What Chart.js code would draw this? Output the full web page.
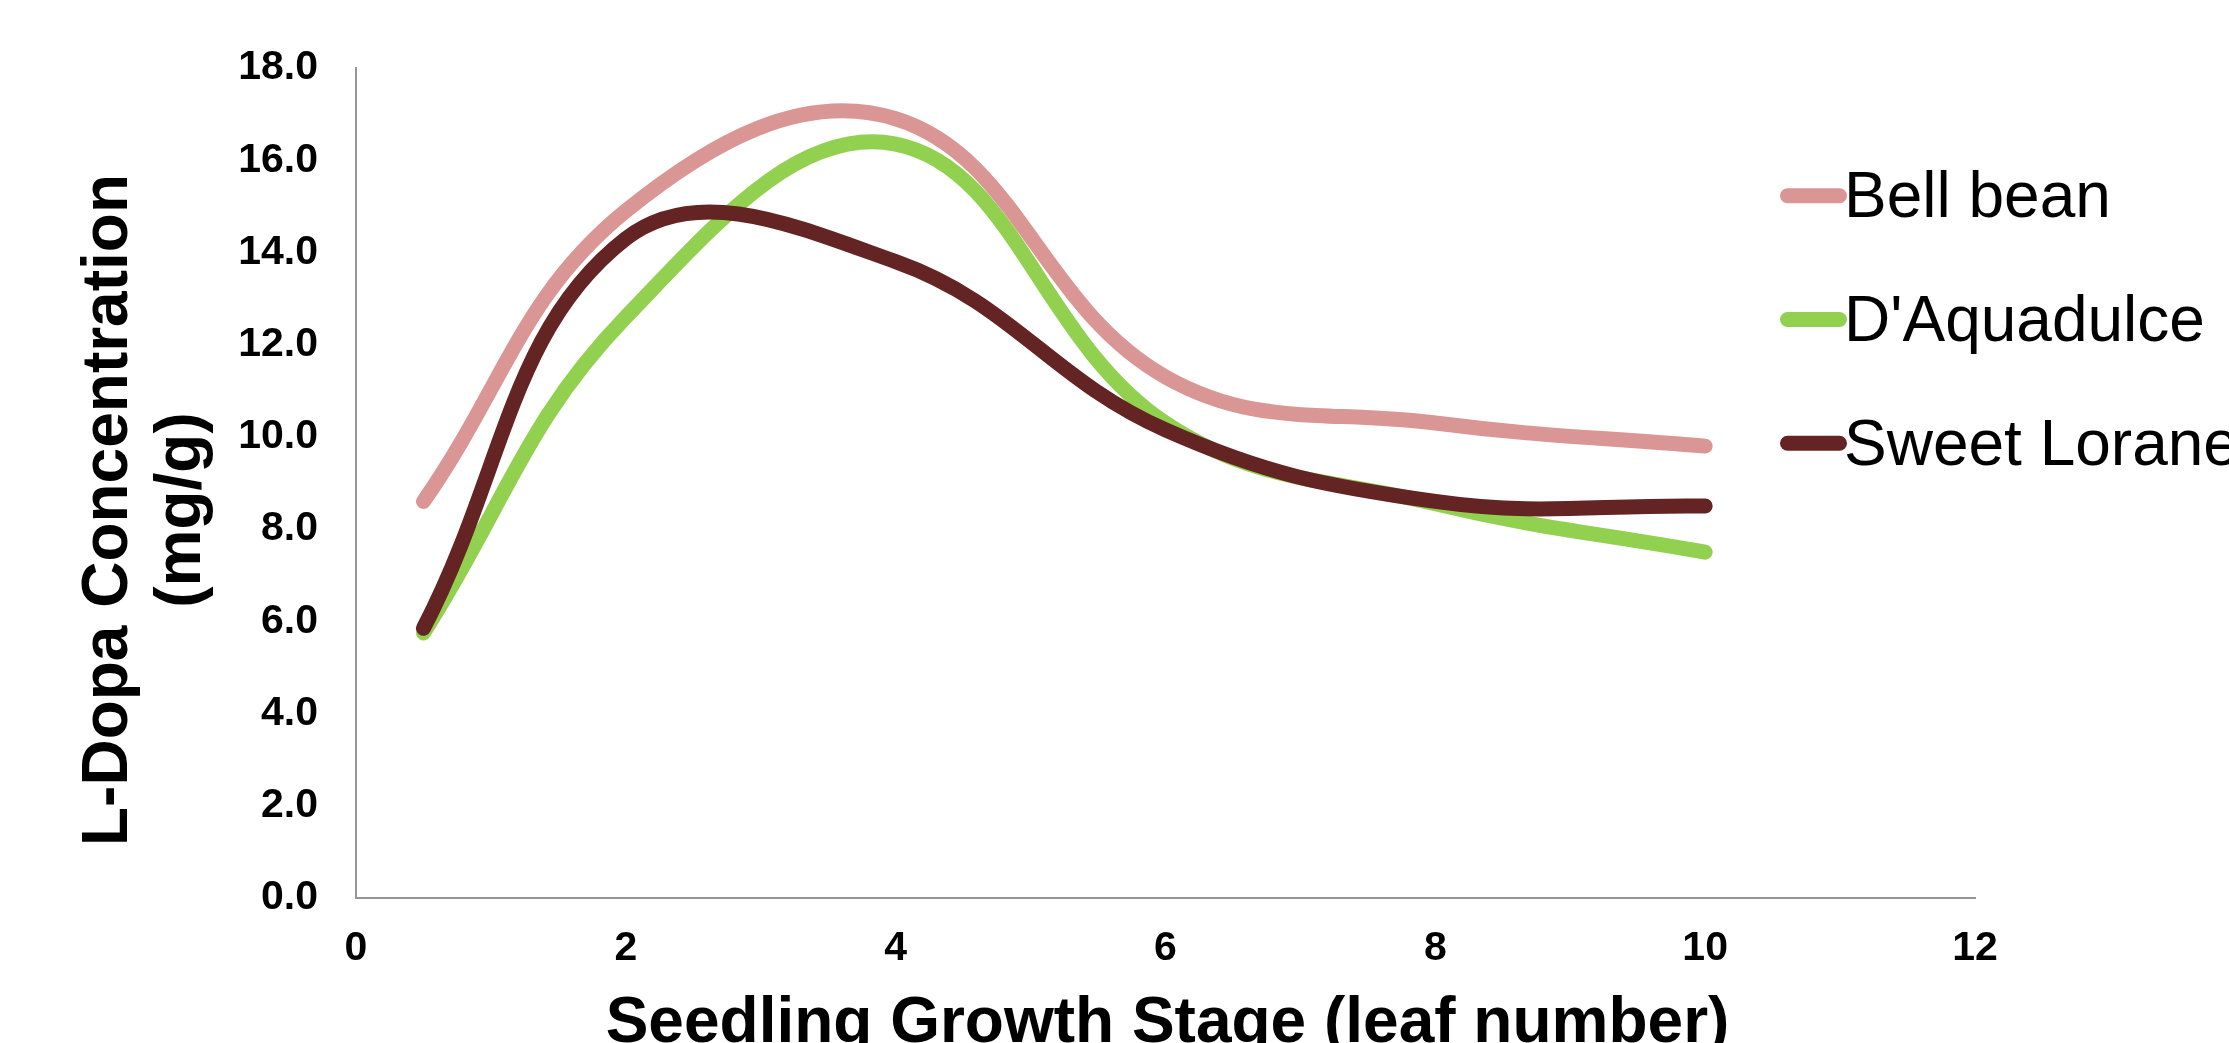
<!DOCTYPE html>
<html>
<head>
<meta charset="utf-8">
<title>L-Dopa concentration by seedling growth stage</title>
<script src="https://cdn.jsdelivr.net/npm/chart.js@4/dist/chart.umd.min.js"></script>
<style>
  html, body { margin: 0; padding: 0; background: #ffffff; overflow: hidden; }
  canvas { display: block; }
</style>
</head>
<body>
<canvas id="chart" width="2229" height="1043"></canvas>
<script>
// Leaf-number stages at which L-Dopa was measured
const stages = [0.5, 2, 4, 6, 8, 10];

// L-Dopa concentration (mg/g) per cultivar
const bellBean    = [8.6, 14.9, 16.9, 11.3, 10.3, 9.8];
const dAquadulce  = [5.75, 12.6, 16.35, 10.3, 8.55, 7.5];
const sweetLorane = [5.85, 14.3, 13.8, 10.15, 8.6, 8.5];

const seriesNames  = ['Bell bean', "D'Aquadulce", 'Sweet Lorane'];
const seriesValues = [bellBean, dAquadulce, sweetLorane];
const seriesColors = ['#D99694', '#92D050', '#632423'];

// Axis ranges and labels
const xTickStep = 2, xMin = 0, xMax = 12;
const yTickStep = 2, yMin = 0, yMax = 18;
const xTitle = 'Seedling Growth Stage (leaf number)';
const yTitle = ['L-Dopa Concentration', '(mg/g)'];

const FONT = '"Liberation Sans", Arial, Helvetica, sans-serif';

const datasets = seriesNames.map((name, i) => ({
  label: name,
  data: stages.map((s, j) => ({ x: s, y: seriesValues[i][j] })),
  borderColor: seriesColors[i],
  backgroundColor: seriesColors[i],
  borderWidth: 15,
  borderCapStyle: 'round',
  borderJoinStyle: 'round',
  pointRadius: 0,
  pointHoverRadius: 0,
  tension: 0.4,
  fill: false,
  // later series are painted over earlier ones
  order: seriesNames.length - 1 - i
}));

// Axis titles and the legend on the right
const decorations = {
  id: 'decorations',
  afterDraw(chart) {
    const { ctx, chartArea } = chart;
    ctx.save();
    ctx.fillStyle = '#000000';
    ctx.textBaseline = 'alphabetic';
    ctx.textAlign = 'center';
    ctx.font = `bold 64px ${FONT}`;

    // horizontal axis title
    ctx.fillText(xTitle, (chartArea.left + chartArea.right) / 2 + 2, 1042);

    // vertical axis title, two lines
    ctx.save();
    ctx.translate(127, 510);
    ctx.rotate(-Math.PI / 2);
    yTitle.forEach((line, i) => ctx.fillText(line, 0, i * 73));
    ctx.restore();

    // legend
    ctx.textAlign = 'left';
    ctx.font = `64px ${FONT}`;
    chart.data.datasets.forEach((ds, i) => {
      const yLine = 195.8 + i * 123.75;
      ctx.strokeStyle = ds.borderColor;
      ctx.lineWidth = 15;
      ctx.lineCap = 'round';
      ctx.beginPath();
      ctx.moveTo(1787.5, yLine);
      ctx.lineTo(1839.5, yLine);
      ctx.stroke();
      ctx.fillStyle = '#000000';
      ctx.fillText(ds.label, 1844, yLine + 21.5);
    });
    ctx.restore();
  }
};

new Chart(document.getElementById('chart'), {
  type: 'line',
  data: { datasets },
  options: {
    responsive: false,
    devicePixelRatio: 1,
    animation: false,
    events: [],
    layout: { padding: { left: 0, top: 68, right: 254, bottom: 0 } },
    plugins: {
      legend: { display: false },
      title: { display: false },
      tooltip: { enabled: false }
    },
    scales: {
      x: {
        type: 'linear',
        min: xMin,
        max: xMax,
        grid: { display: false, drawTicks: false },
        border: { display: true, color: '#969696', width: 2 },
        ticks: {
          stepSize: xTickStep,
          padding: 26,
          color: '#000000',
          font: { family: FONT, size: 41, weight: 'bold' },
          maxRotation: 0,
          callback: v => String(v)
        },
        afterFit: scale => { scale.height = 1043 - 898; }
      },
      y: {
        type: 'linear',
        min: yMin,
        max: yMax,
        grid: { display: false, drawTicks: false },
        border: { display: true, color: '#969696', width: 2 },
        ticks: {
          stepSize: yTickStep,
          padding: 38,
          color: '#000000',
          font: { family: FONT, size: 41, weight: 'bold' },
          callback: v => Number(v).toFixed(1)
        },
        afterFit: scale => { scale.width = 356; }
      }
    }
  },
  plugins: [decorations]
});
</script>
</body>
</html>
